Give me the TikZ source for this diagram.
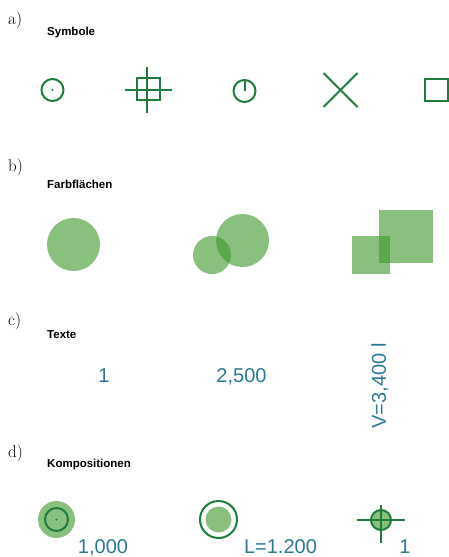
\documentclass[tikz,border=0pt]{standalone}
\usepackage{fontspec}
\newfontfamily\wertfont{Liberation Sans}
\definecolor{gruen}{RGB}{30,125,60}
\definecolor{hellgruen}{RGB}{60,150,40}
\definecolor{wertblau}{RGB}{40,120,150}
\tikzset{
	sym/.style={line width=2pt, color=gruen},
	flaeche/.style={fill=hellgruen, fill opacity=0.6},
	teil/.style={font=\fontsize{17}{17}\selectfont, anchor=base west, inner sep=0},
	titel/.style={font=\wertfont\bfseries\fontsize{11.5}{12}\selectfont, anchor=base west, inner sep=0},
	wert/.style={font=\wertfont\fontsize{20}{20}\selectfont, text=wertblau, anchor=base, inner sep=0}
}

\begin{document}
\begin{tikzpicture}[x=1pt, y=-1pt]
		%%%%% START %%%%%
		\useasboundingbox (0, 0) rectangle (449, 557);
		
		%%%%% a) Symbole
		\node[teil] (a) at (8, 24) {a)};
		\node[titel] (symbole) at (47, 35) {Symbole};
		
		\draw[sym] (52.5, 90) circle (11pt);
		\fill[gruen] (52.5, 90) circle (1.1pt);
		
		\draw[sym] (137, 78) rectangle (160, 100);
		\draw[sym] (147, 67) -- (147, 113);
		\draw[sym] (125, 90) -- (172, 90);
		
		\draw[sym] (244.5, 91) circle (11pt);
		\draw[sym] (244.5, 80) -- (244.5, 91);
		
		\draw[sym] (323.5, 73) -- (357.5, 107);
		\draw[sym] (323.5, 107) -- (357.5, 73);
		
		\draw[sym] (425, 79) rectangle (448, 101);
		
		%%%%% b) Farbflaechen
		\node[teil] (b) at (8, 171) {b)};
		\node[titel] (farbflaechen) at (47, 188) {Farbflächen};
		
		\fill[flaeche] (73.5, 244.5) circle (26.5pt);
		\fill[flaeche] (212, 255) circle (19pt);
		\fill[flaeche] (242.5, 240.5) circle (26.5pt);
		\fill[flaeche] (352, 236) rectangle (390, 274);
		\fill[flaeche] (379, 210) rectangle (433, 263);
		
		%%%%% c) Texte
		\node[teil] (c) at (8, 325) {c)};
		\node[titel] (texte) at (47, 338) {Texte};
		
		\node[wert] (t1) at (104, 382) {1};
		\node[wert] (t2) at (241.5, 382) {2,500};
		\node[wert, anchor=center, rotate=90] (t3) at (380, 386) {V=3,400 l};
		
		%%%%% d) Kompositionen
		\node[teil] (d) at (8, 457) {d)};
		\node[titel] (kompositionen) at (47, 467) {Kompositionen};
		
		\fill[flaeche] (56.5, 519.5) circle (18.5pt);
		\draw[sym] (56.5, 519.5) circle (11.5pt);
		\fill[gruen] (56.5, 519.5) circle (1.1pt);
		\node[wert] (k1) at (103, 553) {1,000};
		
		\draw[sym] (218.5, 519.5) circle (18.5pt);
		\fill[flaeche] (218.5, 519.5) circle (13pt);
		\node[wert] (k2) at (280.5, 553) {L=1.200};
		
		\draw[sym, fill=hellgruen!60] (381, 520) circle (10pt);
		\draw[sym] (381, 505) -- (381, 543);
		\draw[sym] (357, 520) -- (405, 520);
		\node[wert] (k3) at (405, 553) {1};
		
		%%%%% END %%%%%
	\end{tikzpicture}
\end{document}
